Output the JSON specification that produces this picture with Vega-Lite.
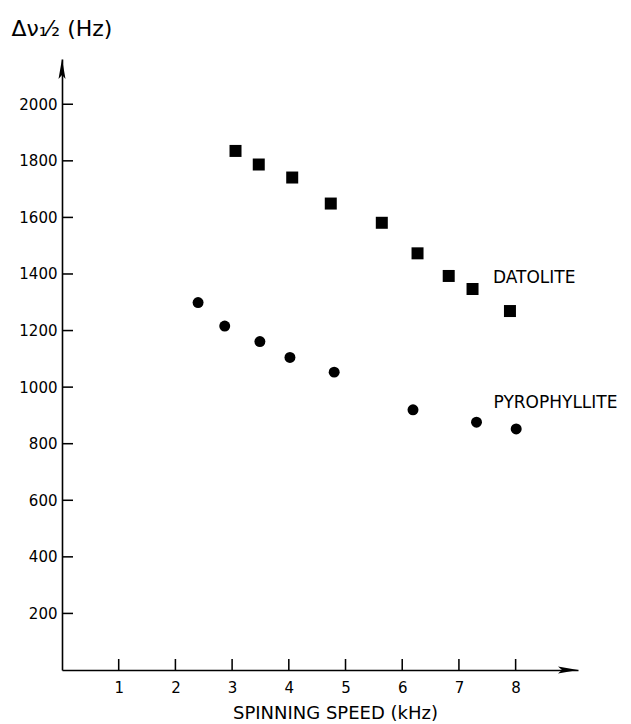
{
  "$schema": "https://vega.github.io/schema/vega-lite/v6.json",
  "width": 516,
  "height": 611,
  "autosize": {"type": "none"},
  "padding": {"left": 62, "top": 59, "right": 53, "bottom": 54},
  "background": "white",
  "config": {
    "view": {"stroke": null},
    "font": "DejaVu Sans",
    "axis": {
      "grid": false,
      "domainColor": "black",
      "domainWidth": 1.6,
      "ticks": false,
      "labelColor": "black",
      "labelFont": "DejaVu Sans",
      "labelFontSize": 15,
      "titleColor": "black",
      "titleFont": "DejaVu Sans",
      "titleFontWeight": "normal"
    }
  },
  "datasets": {
    "pts": [
      {"series": "DATOLITE", "speed": 3.06, "dv": 1835},
      {"series": "DATOLITE", "speed": 3.47, "dv": 1787},
      {"series": "DATOLITE", "speed": 4.06, "dv": 1741},
      {"series": "DATOLITE", "speed": 4.74, "dv": 1649},
      {"series": "DATOLITE", "speed": 5.64, "dv": 1581},
      {"series": "DATOLITE", "speed": 6.27, "dv": 1473},
      {"series": "DATOLITE", "speed": 6.82, "dv": 1393},
      {"series": "DATOLITE", "speed": 7.24, "dv": 1347},
      {"series": "DATOLITE", "speed": 7.90, "dv": 1269},
      {"series": "PYROPHYLLITE", "speed": 2.40, "dv": 1299},
      {"series": "PYROPHYLLITE", "speed": 2.87, "dv": 1216},
      {"series": "PYROPHYLLITE", "speed": 3.49, "dv": 1161},
      {"series": "PYROPHYLLITE", "speed": 4.02, "dv": 1105},
      {"series": "PYROPHYLLITE", "speed": 4.80, "dv": 1053},
      {"series": "PYROPHYLLITE", "speed": 6.19, "dv": 920},
      {"series": "PYROPHYLLITE", "speed": 7.31, "dv": 876},
      {"series": "PYROPHYLLITE", "speed": 8.01, "dv": 852}
    ],
    "labels": [
      {"label": "DATOLITE", "speed": 7.60, "dv": 1385},
      {"label": "PYROPHYLLITE", "speed": 7.61, "dv": 943}
    ],
    "yticks": [
      {"speed": 0, "dv": 200}, {"speed": 0, "dv": 400},
      {"speed": 0, "dv": 600}, {"speed": 0, "dv": 800},
      {"speed": 0, "dv": 1000}, {"speed": 0, "dv": 1200},
      {"speed": 0, "dv": 1400}, {"speed": 0, "dv": 1600},
      {"speed": 0, "dv": 1800}, {"speed": 0, "dv": 2000}
    ],
    "xticks": [
      {"speed": 1, "dv": 0}, {"speed": 2, "dv": 0},
      {"speed": 3, "dv": 0}, {"speed": 4, "dv": 0},
      {"speed": 5, "dv": 0}, {"speed": 6, "dv": 0},
      {"speed": 7, "dv": 0}, {"speed": 8, "dv": 0}
    ],
    "arrowUp": [{"speed": 0, "dv": 2160}],
    "arrowRight": [{"speed": 9.1, "dv": 0}]
  },
  "layer": [
    {
      "data": {"name": "pts"},
      "mark": {"type": "point", "filled": true, "color": "black", "opacity": 1},
      "encoding": {
        "x": {
          "field": "speed", "type": "quantitative",
          "scale": {"domain": [0, 9.1], "nice": false, "zero": false},
          "axis": {
            "values": [1, 2, 3, 4, 5, 6, 7, 8],
            "format": "d",
            "labelPadding": 10,
            "title": "SPINNING SPEED (kHz)",
            "titleFontSize": 18,
            "titleAnchor": "start",
            "titleAlign": "center",
            "titleBaseline": "alphabetic",
            "titleX": 273,
            "titleY": 48
          }
        },
        "y": {
          "field": "dv", "type": "quantitative",
          "scale": {"domain": [0, 2160], "nice": false},
          "axis": {
            "values": [200, 400, 600, 800, 1000, 1200, 1400, 1600, 1800, 2000],
            "format": "d",
            "labelPadding": 5,
            "title": "Δν₁⁄₂ (Hz)",
            "titleFontSize": 22,
            "titleAngle": 0,
            "titleAlign": "left",
            "titleBaseline": "alphabetic",
            "titleX": -51,
            "titleY": -24
          }
        },
        "shape": {
          "field": "series", "type": "nominal",
          "scale": {"domain": ["DATOLITE", "PYROPHYLLITE"], "range": ["square", "circle"]},
          "legend": null
        },
        "size": {
          "field": "series", "type": "nominal",
          "scale": {"domain": ["DATOLITE", "PYROPHYLLITE"], "range": [144, 120]},
          "legend": null
        }
      }
    },
    {
      "data": {"name": "yticks"},
      "mark": {"type": "point", "filled": true, "color": "black", "opacity": 1, "size": 121,
               "shape": "M0,-0.14L2,-0.14L2,0.14L0,0.14Z"},
      "encoding": {
        "x": {"field": "speed", "type": "quantitative"},
        "y": {"field": "dv", "type": "quantitative"}
      }
    },
    {
      "data": {"name": "xticks"},
      "mark": {"type": "point", "filled": true, "color": "black", "opacity": 1, "size": 121,
               "shape": "M-0.14,0L0.14,0L0.14,-2L-0.14,-2Z"},
      "encoding": {
        "x": {"field": "speed", "type": "quantitative"},
        "y": {"field": "dv", "type": "quantitative"}
      }
    },
    {
      "data": {"name": "labels"},
      "mark": {"type": "text", "align": "left", "baseline": "middle", "fontSize": 17, "color": "black", "font": "DejaVu Sans"},
      "encoding": {
        "x": {"field": "speed", "type": "quantitative"},
        "y": {"field": "dv", "type": "quantitative"},
        "text": {"field": "label"}
      }
    },
    {
      "data": {"name": "arrowUp"},
      "mark": {"type": "point", "filled": true, "color": "black", "opacity": 1, "size": 400,
               "shape": "M0,0L0.35,2L0,1.6L-0.35,2Z"},
      "encoding": {
        "x": {"field": "speed", "type": "quantitative"},
        "y": {"field": "dv", "type": "quantitative"}
      }
    },
    {
      "data": {"name": "arrowRight"},
      "mark": {"type": "point", "filled": true, "color": "black", "opacity": 1, "size": 400,
               "shape": "M0,0L-2,-0.35L-1.6,0L-2,0.35Z"},
      "encoding": {
        "x": {"field": "speed", "type": "quantitative"},
        "y": {"field": "dv", "type": "quantitative"}
      }
    }
  ]
}
